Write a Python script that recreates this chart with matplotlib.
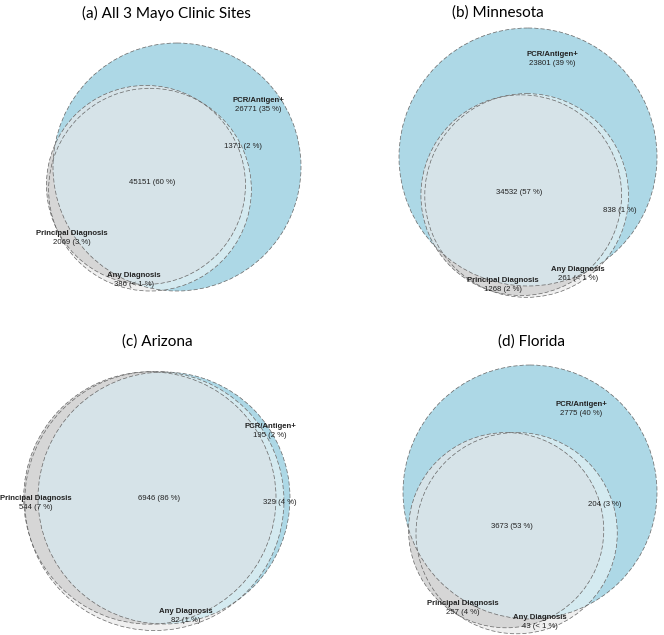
import numpy as np
import matplotlib.pyplot as plt
from matplotlib.patches import Circle

# region counts per panel: (a) all sites, (b) Minnesota, (c) Arizona, (d) Florida
titles = ['(a) All 3 Mayo Clinic Sites', '(b) Minnesota', '(c) Arizona', '(d) Florida']
pcr_only = [26771, 23801, 195, 2775]
pcr_any = [1371, 838, 329, 204]
all_three = [45151, 34532, 6946, 3673]
principal_only = [2069, 1268, 544, 257]
any_only = [386, 261, 82, 43]

# layout (pixels): PCR circle centre, its radius in px, direction of the other circles
pcr_center_px = [(177, 167), (528, 157), (164, 498), (530, 492)]
pcr_radius_px = [124, 129, 126, 127]
angle_any = [220, 268, 197, 252]
angle_pr = [210, 260, 180, 238]
title_pos = [(166, 13), (498, 13), (157, 342), (532, 342)]

# label positions (pixels)
lab_pcr = [(258, 105), (552, 59), (270, 431), (581, 409)]
lab_pcr_any = [(243, 147), (620, 210), (280, 503), (605, 505)]
lab_all = [(152, 183), (519, 192), (159, 499), (512, 526)]
lab_pr = [(72, 238), (503, 285), (36, 503), (463, 608)]
lab_any = [(134, 280), (578, 274), (186, 616), (540, 622)]

C_PCR = '#ADD8E6'
C_ANYONLY = '#EFEFEF'
C_PCRANY = '#D4EAF0'
C_PRONLY = '#D6D6D6'
C_ALL = '#D6E3E8'
EDGE = '#666666'


def lens_area(r1, r2, d):
    if d >= r1 + r2:
        return 0.0
    if d <= abs(r1 - r2):
        return np.pi * min(r1, r2) ** 2
    a1 = r1 ** 2 * np.arccos((d ** 2 + r1 ** 2 - r2 ** 2) / (2 * d * r1))
    a2 = r2 ** 2 * np.arccos((d ** 2 + r2 ** 2 - r1 ** 2) / (2 * d * r2))
    a3 = 0.5 * np.sqrt((-d + r1 + r2) * (d + r1 - r2) * (d - r1 + r2) * (d + r1 + r2))
    return a1 + a2 - a3


def solve_distance(r1, r2, area):
    lo, hi = abs(r1 - r2), r1 + r2
    for _ in range(100):
        mid = (lo + hi) / 2
        if lens_area(r1, r2, mid) > area:
            lo = mid
        else:
            hi = mid
    return (lo + hi) / 2


def pct(v, total):
    p = v / total * 100
    if p < 1:
        return '< 1 %'
    return '%d %%' % round(p)


fig = plt.figure(figsize=(6.64, 6.35), dpi=100)
ax = fig.add_axes([0, 0, 1, 1])
ax.set_xlim(0, 664)
ax.set_ylim(635, 0)
ax.axis('off')

lab_font = dict(family=['Liberation Sans', 'DejaVu Sans'], fontsize=5.6, color='#222222',
                ha='center', va='center')

for i in range(4):
    total = pcr_only[i] + pcr_any[i] + all_three[i] + principal_only[i] + any_only[i]
    pcr = pcr_only[i] + pcr_any[i] + all_three[i]
    pr = all_three[i] + principal_only[i]
    anyd = pcr_any[i] + all_three[i] + principal_only[i] + any_only[i]
    r_pcr, r_pr, r_any = [np.sqrt(a / np.pi) for a in (pcr, pr, anyd)]
    d_any = solve_distance(r_pcr, r_any, pcr_any[i] + all_three[i])
    d_pr = solve_distance(r_pcr, r_pr, all_three[i])

    s = pcr_radius_px[i] / r_pcr
    cx, cy = pcr_center_px[i]
    ta, tp = np.radians(angle_any[i]), np.radians(angle_pr[i])
    c_pcr = (cx, cy)
    c_any = (cx + s * d_any * np.cos(ta), cy - s * d_any * np.sin(ta))
    c_pr = (cx + s * d_pr * np.cos(tp), cy - s * d_pr * np.sin(tp))

    def circ(c, r, color, clip=None):
        p = Circle(c, r * s, facecolor=color, edgecolor='none', transform=ax.transData)
        ax.add_patch(p)
        if clip is not None:
            p.set_clip_path(clip)
        return p

    pcr_patch = circ(c_pcr, r_pcr, C_PCR)
    circ(c_any, r_any, C_ANYONLY)
    circ(c_any, r_any, C_PCRANY, clip=pcr_patch)
    circ(c_pr, r_pr, C_PRONLY)
    circ(c_pr, r_pr, C_ALL, clip=pcr_patch)

    for c, r in ((c_pcr, r_pcr), (c_pr, r_pr), (c_any, r_any)):
        ax.add_patch(Circle(c, r * s, facecolor='none', edgecolor=EDGE, lw=0.5,
                            linestyle=(0, (6, 3))))

    ax.text(*title_pos[i], titles[i], family=['Lato', 'DejaVu Sans'], fontsize=11,
            ha='center', va='center')

    def two_line(pos, name, v):
        x, y = pos
        ax.text(x, y - 4.5, name, fontweight='bold', **lab_font)
        ax.text(x, y + 4.5, '%d (%s)' % (v, pct(v, total)), **lab_font)

    two_line(lab_pcr[i], 'PCR/Antigen+', pcr_only[i])
    two_line(lab_pr[i], 'Principal Diagnosis', principal_only[i])
    two_line(lab_any[i], 'Any Diagnosis', any_only[i])
    ax.text(*lab_pcr_any[i], '%d (%s)' % (pcr_any[i], pct(pcr_any[i], total)), **lab_font)
    ax.text(*lab_all[i], '%d (%s)' % (all_three[i], pct(all_three[i], total)), **lab_font)

fig.savefig('out.png', dpi=100)
